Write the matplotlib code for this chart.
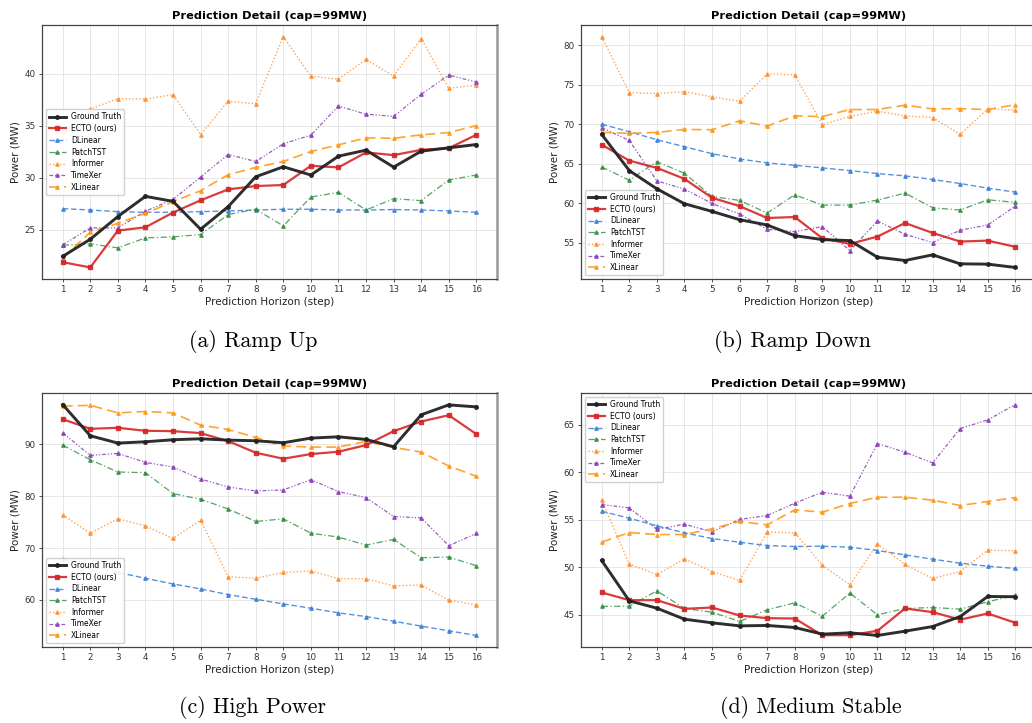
import matplotlib
matplotlib.use("Agg")
import matplotlib.pyplot as plt
import numpy as np

steps = list(range(1, 17))
model_names = ["Ground Truth", "ECTO (ours)", "DLinear", "PatchTST", "Informer", "TimeXer", "XLinear"]

# (a) Ramp Up
ramp_up_gt = [22.45, 24.1, 26.28, 28.22, 27.74, 25.06, 27.23, 30.1, 31.06, 30.27, 32.08, 32.66, 31.03, 32.56, 32.88, 33.2]
ramp_up_ecto = [21.9, 21.39, 24.93, 25.25, 26.66, 27.84, 28.89, 29.21, 29.31, 31.16, 31.0, 32.44, 32.18, 32.69, 32.85, 34.13]
ramp_up_dlinear = [27.04, 26.91, 26.75, 26.69, 26.69, 26.75, 26.82, 26.91, 26.98, 26.98, 26.91, 26.91, 26.95, 26.91, 26.82, 26.69]
ramp_up_patchtst = [23.53, 23.66, 23.27, 24.23, 24.33, 24.55, 26.47, 26.98, 25.38, 28.16, 28.6, 26.91, 28.0, 27.81, 29.79, 30.27]
ramp_up_informer = [34.41, 36.62, 37.6, 37.57, 37.99, 34.16, 37.35, 37.13, 43.57, 39.74, 39.49, 41.37, 39.78, 43.38, 38.6, 38.91]
ramp_up_timexer = [23.56, 25.19, 25.19, 26.79, 27.93, 30.07, 32.24, 31.57, 33.27, 34.1, 36.9, 36.11, 35.91, 38.02, 39.87, 39.2]
ramp_up_xlinear = [22.29, 24.78, 25.64, 26.59, 27.71, 28.76, 30.3, 31.0, 31.57, 32.53, 33.17, 33.84, 33.8, 34.13, 34.35, 35.02]

# (b) Ramp Down
ramp_down_gt = [68.74, 64.16, 61.85, 59.96, 58.99, 57.94, 57.27, 55.92, 55.42, 55.29, 53.19, 52.77, 53.49, 52.35, 52.31, 51.89]
ramp_down_ecto = [67.44, 65.42, 64.5, 63.11, 60.71, 59.66, 58.15, 58.28, 55.59, 54.87, 55.8, 57.52, 56.26, 55.17, 55.29, 54.5]
ramp_down_dlinear = [70.04, 69.08, 68.07, 67.18, 66.3, 65.63, 65.13, 64.83, 64.5, 64.16, 63.78, 63.49, 63.03, 62.52, 61.93, 61.43]
ramp_down_patchtst = [64.62, 62.94, 65.29, 63.82, 60.88, 60.38, 58.78, 61.09, 59.79, 59.79, 60.42, 61.3, 59.45, 59.16, 60.46, 60.13]
ramp_down_informer = [81.13, 74.03, 73.91, 74.16, 73.49, 72.94, 76.39, 76.3, 69.96, 71.01, 71.68, 71.09, 70.88, 68.74, 71.97, 71.81]
ramp_down_timexer = [69.58, 67.98, 62.86, 61.81, 60.0, 58.66, 56.72, 56.43, 57.06, 54.03, 57.77, 56.09, 55.04, 56.6, 57.27, 59.66]
ramp_down_xlinear = [68.99, 68.87, 68.99, 69.37, 69.33, 70.46, 69.79, 71.09, 71.0, 71.89, 71.89, 72.44, 71.97, 72.0, 71.89, 72.52]

# (c) High Power
high_gt = [97.69, 91.67, 90.26, 90.51, 90.9, 91.09, 90.83, 90.71, 90.32, 91.22, 91.47, 90.96, 89.55, 95.71, 97.63, 97.24]
high_ecto = [94.87, 93.01, 93.21, 92.63, 92.56, 92.18, 90.64, 88.4, 87.24, 88.14, 88.59, 89.87, 92.56, 94.42, 95.64, 91.99]
high_dlinear = [67.82, 66.6, 65.32, 64.17, 63.08, 62.12, 61.03, 60.13, 59.23, 58.4, 57.5, 56.79, 55.9, 54.94, 54.04, 53.14]
high_patchtst = [89.87, 87.05, 84.68, 84.55, 80.51, 79.42, 77.56, 75.13, 75.64, 72.88, 72.12, 70.58, 71.67, 68.14, 68.27, 66.6]
high_informer = [76.41, 72.88, 75.64, 74.29, 71.86, 75.38, 64.49, 64.17, 65.32, 65.58, 64.1, 64.1, 62.69, 62.88, 59.94, 59.04]
high_timexer = [92.24, 87.88, 88.27, 86.54, 85.64, 83.33, 81.79, 81.03, 81.22, 83.21, 80.9, 79.74, 76.09, 75.83, 70.45, 72.82]
high_xlinear = [97.37, 97.56, 96.09, 96.35, 96.09, 93.72, 92.88, 91.35, 89.68, 89.49, 89.49, 90.58, 89.42, 88.53, 85.83, 83.85]

# (d) Medium Stable
med_gt = [50.71, 46.47, 45.7, 44.54, 44.16, 43.84, 43.88, 43.67, 42.97, 43.11, 42.83, 43.28, 43.77, 44.82, 46.93, 46.9]
med_ecto = [47.35, 46.54, 46.54, 45.63, 45.77, 44.93, 44.65, 44.61, 42.86, 42.86, 43.32, 45.67, 45.28, 44.49, 45.14, 44.16]
med_dlinear = [55.89, 55.16, 54.35, 53.62, 53.02, 52.63, 52.28, 52.18, 52.21, 52.11, 51.76, 51.3, 50.85, 50.43, 50.11, 49.87]
med_patchtst = [45.88, 45.91, 47.52, 45.67, 45.28, 44.3, 45.53, 46.26, 44.86, 47.28, 45.0, 45.67, 45.77, 45.6, 46.37, 47.07]
med_informer = [57.08, 50.32, 49.24, 50.88, 49.55, 48.61, 53.69, 53.62, 50.22, 48.15, 52.46, 50.29, 48.82, 49.55, 51.8, 51.73]
med_timexer = [56.59, 56.24, 53.97, 54.53, 53.72, 55.02, 55.44, 56.73, 57.89, 57.47, 63.0, 62.09, 60.97, 64.58, 65.49, 67.1]
med_xlinear = [52.64, 53.65, 53.44, 53.44, 54.04, 54.81, 54.46, 56.03, 55.79, 56.7, 57.36, 57.36, 57.05, 56.49, 56.91, 57.33]

panels = [
    ("(a) Ramp Up", [ramp_up_gt, ramp_up_ecto, ramp_up_dlinear, ramp_up_patchtst, ramp_up_informer, ramp_up_timexer, ramp_up_xlinear], "center left"),
    ("(b) Ramp Down", [ramp_down_gt, ramp_down_ecto, ramp_down_dlinear, ramp_down_patchtst, ramp_down_informer, ramp_down_timexer, ramp_down_xlinear], "lower left"),
    ("(c) High Power", [high_gt, high_ecto, high_dlinear, high_patchtst, high_informer, high_timexer, high_xlinear], "lower left"),
    ("(d) Medium Stable", [med_gt, med_ecto, med_dlinear, med_patchtst, med_informer, med_timexer, med_xlinear], "upper left"),
]

styles = [
    dict(color="#222222", lw=2.1, ls="-", marker="o", ms=2.5, alpha=0.95, zorder=10),
    dict(color="#d62728", lw=1.6, ls="-", marker="s", ms=2.5, alpha=0.9, zorder=9),
    dict(color="#3a7fd5", lw=1.0, ls=(0, (4, 2)), marker="^", ms=2.5, alpha=0.85, zorder=5),
    dict(color="#2e8b3d", lw=0.9, ls=(0, (5, 2, 1, 2)), marker="^", ms=2.5, alpha=0.8, zorder=5),
    dict(color="#ff8c2a", lw=1.0, ls=(0, (1, 1.5)), marker="^", ms=2.5, alpha=0.8, zorder=5),
    dict(color="#8a3fb8", lw=0.9, ls=(0, (3, 1.5, 1, 1.5, 1, 1.5)), marker="^", ms=2.5, alpha=0.85, zorder=5),
    dict(color="#ff9a1a", lw=1.2, ls=(0, (6, 3)), marker="^", ms=2.5, alpha=0.9, zorder=6),
]

fig = plt.figure(figsize=(10.32, 7.23), dpi=100)

positions = [
    (0.0407, 0.6141, 0.4409, 0.3513),
    (0.5630, 0.6141, 0.4409, 0.3513),
    (0.0407, 0.1051, 0.4409, 0.3513),
    (0.5630, 0.1051, 0.4409, 0.3513),
]
caption_xy = [(0.245, 0.527), (0.768, 0.527), (0.245, 0.021), (0.786, 0.021)]

for (caption, series, legloc), pos, cxy in zip(panels, positions, caption_xy):
    ax = fig.add_axes(pos)
    for name, vals, st in zip(model_names, series, styles):
        ax.plot(steps, vals, label=name, **st)
    ax.set_xlim(0.25, 16.75)
    ax.set_xticks(steps)
    ax.grid(True, color="#dddddd", lw=0.7, alpha=0.7)
    ax.set_axisbelow(True)
    ax.tick_params(labelsize=6.3, length=2.5, width=0.6, colors="#333333", pad=2)
    ax.set_xlabel("Prediction Horizon (step)", fontsize=7.5, color="#222222", labelpad=2)
    ax.set_ylabel("Power (MW)", fontsize=7.5, color="#222222", labelpad=3)
    ax.set_title("Prediction Detail (cap=99MW)", fontsize=8.2, fontweight="bold", pad=4)
    for s in ["left", "bottom", "top"]:
        ax.spines[s].set_color("#444444")
        ax.spines[s].set_linewidth(0.9)
    ax.spines["right"].set_color("#999999")
    ax.spines["right"].set_linewidth(1.8)
    leg = ax.legend(loc=legloc, fontsize=5.5, frameon=True, framealpha=0.9,
                    edgecolor="#cccccc", fancybox=True, borderpad=0.4,
                    labelspacing=0.35, handlelength=2.2, handletextpad=0.7)
    fig.text(cxy[0], cxy[1], caption, ha="center", va="center", fontsize=15.8, family="cmr10")

fig.savefig("out.png", dpi=100)
